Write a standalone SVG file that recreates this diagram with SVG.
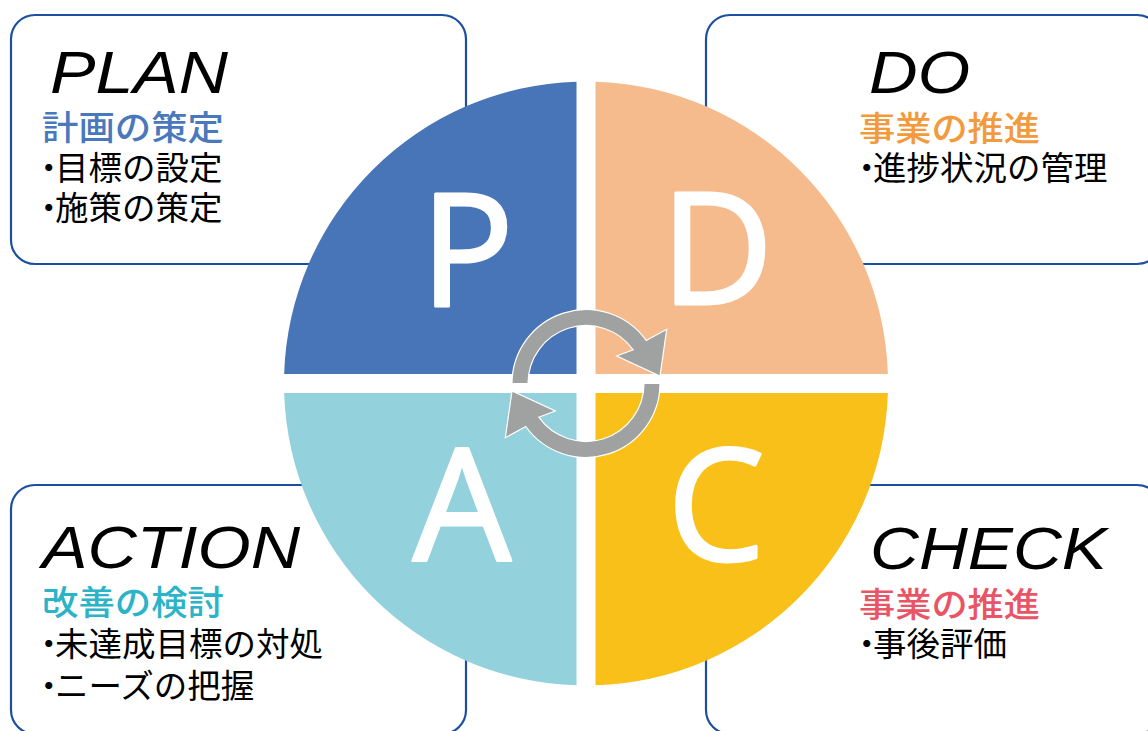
<svg xmlns="http://www.w3.org/2000/svg" width="1148" height="731" viewBox="0 0 1148 731">
<style>
.box{fill:#fff;stroke:#1c4fa0;stroke-width:2.2}
.ttl{font-family:"Liberation Sans",Arial,sans-serif;font-style:italic;font-size:60px;fill:#000}
.sub{font-family:"Noto Sans CJK JP",sans-serif;font-weight:500;font-size:34px}
.body{font-family:"Noto Sans CJK JP",sans-serif;font-weight:400;font-size:33.5px;fill:#000}
.big{font-family:"Open Sans",sans-serif;font-weight:400;font-size:155px;fill:#fff;stroke:#fff;stroke-width:3;stroke-linejoin:round;text-anchor:middle}
.arr{fill:#a0a2a2;stroke:#fff;stroke-width:1.2;stroke-linejoin:miter}
</style>
<rect width="1148" height="731" fill="#fff"/>
<g id="box-plan">
<rect class="box" x="11" y="15" width="455" height="249" rx="24"/>
<text class="ttl" x="50" y="92.5" textLength="178" lengthAdjust="spacingAndGlyphs">PLAN</text>
<text class="sub" x="42" y="140" fill="#4a78bc" textLength="182" lengthAdjust="spacingAndGlyphs">計画の策定</text>
<text class="body" x="32 55" y="179.7">・目標の設定</text>
<text class="body" x="32 55" y="219.7">・施策の策定</text>
</g>
<g id="box-do">
<rect class="box" x="706" y="15" width="455" height="249" rx="24"/>
<text class="ttl" x="869" y="92.5" textLength="101" lengthAdjust="spacingAndGlyphs">DO</text>
<text class="sub" x="859" y="140.8" fill="#f39a3c" textLength="181" lengthAdjust="spacingAndGlyphs">事業の推進</text>
<text class="body" x="850 873" y="179.7">・進捗状況の管理</text>
</g>
<g id="box-action">
<rect class="box" x="11" y="485" width="455" height="249" rx="24"/>
<text class="ttl" x="42" y="568" textLength="258" lengthAdjust="spacingAndGlyphs">ACTION</text>
<text class="sub" x="42" y="615.4" fill="#2bb3c8" textLength="182" lengthAdjust="spacingAndGlyphs">改善の検討</text>
<text class="body" x="32 55" y="656">・未達成目標の対処</text>
<text class="body" x="32 55" y="697.7">・ニーズの把握</text>
</g>
<g id="box-check">
<rect class="box" x="706" y="485" width="455" height="249" rx="24"/>
<text class="ttl" x="870" y="569" textLength="237" lengthAdjust="spacingAndGlyphs">CHECK</text>
<text class="sub" x="859" y="617" fill="#e95565" textLength="181" lengthAdjust="spacingAndGlyphs">事業の推進</text>
<text class="body" x="850 873" y="655.7">・事後評価</text>
</g>
<g id="quad-p">
<path d="M576.5,374 V81.65 A302,302 0 0 0 284.15,374 Z" fill="#4874b8"/>
<text class="big" x="467" y="305.5">P</text>
</g>
<g id="quad-d">
<path d="M595.5,374 V81.65 A302,302 0 0 1 887.85,374 Z" fill="#f6bb8c"/>
<text class="big" x="717" y="304">D</text>
</g>
<g id="quad-a">
<path d="M576.5,393 V685.35 A302,302 0 0 1 284.15,393 Z" fill="#93d2dc"/>
<text class="big" x="462" y="560">A</text>
</g>
<g id="quad-c">
<path d="M595.5,393 V685.35 A302,302 0 0 0 887.85,393 Z" fill="#f8c018"/>
<text class="big" x="716" y="560">C</text>
</g>
<g id="connectors">
<path class="arr" d="M512,383.5 A74,74 0 0 1 646.2,340.5 L666.7,329.3 L660,376 L616.7,356 L633.2,349.8 A58,58 0 0 0 528,383.5 Z"/>
<path class="arr" transform="rotate(180 586 383.5)" d="M512,383.5 A74,74 0 0 1 646.2,340.5 L666.7,329.3 L660,376 L616.7,356 L633.2,349.8 A58,58 0 0 0 528,383.5 Z"/>
</g>
</svg>
